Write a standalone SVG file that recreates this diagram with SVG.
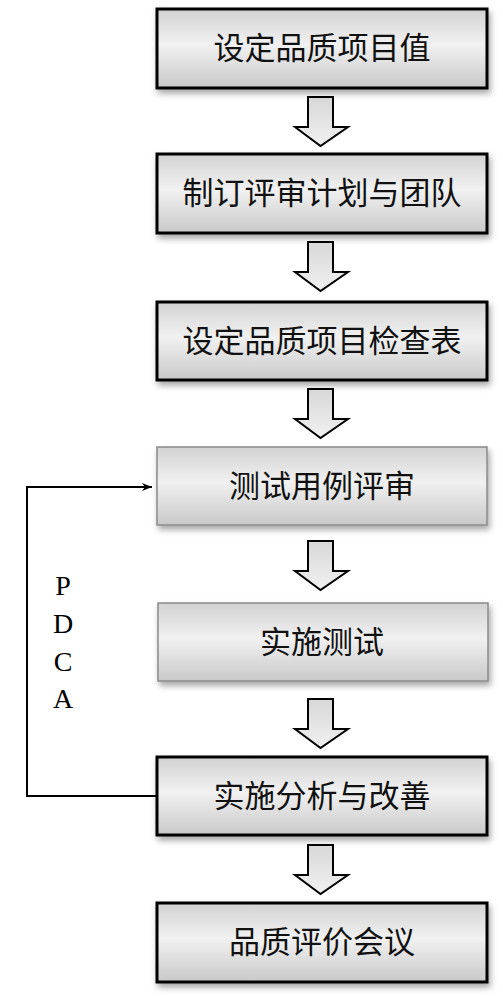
<svg xmlns="http://www.w3.org/2000/svg" width="503" height="1008" viewBox="0 0 503 1008">
<defs>
<linearGradient id="boxg" x1="0" y1="0" x2="0" y2="1">
<stop offset="0" stop-color="#d2d2d2"/>
<stop offset="0.45" stop-color="#f1f1f1"/>
<stop offset="1" stop-color="#c9c9c9"/>
</linearGradient>
<linearGradient id="arrg" x1="0" y1="0" x2="0" y2="1">
<stop offset="0" stop-color="#d8d8d8"/>
<stop offset="1" stop-color="#f0f0f0"/>
</linearGradient>
<filter id="sh" x="-10%" y="-10%" width="125%" height="135%">
<feDropShadow dx="2" dy="4" stdDeviation="3" flood-color="#000" flood-opacity="0.35"/>
</filter>
<marker id="ah" viewBox="0 0 10 10" refX="10" refY="5" markerWidth="25" markerHeight="10" markerUnits="userSpaceOnUse" orient="auto">
<path d="M0,1 L10,5 L0,9 L3,5 z" fill="#000"/>
</marker>
<path id="arrow" d="M-13,0 H12 V30 H27 L-0.5,49 L-26,30 H-13 Z"/>
</defs>
<style>
.box{fill:url(#boxg);filter:url(#sh)}
.dark{stroke:#000;stroke-width:3}
.light{stroke:#8a8a8a;stroke-width:1.5}
.lbl{font-family:"Liberation Serif","Noto Sans CJK SC",serif;font-size:31px;fill:#111;text-anchor:middle;dominant-baseline:central}
.arr{fill:url(#arrg);stroke:#000;stroke-width:2;stroke-linejoin:miter}
.pdca{font-family:"Liberation Serif","Times New Roman",serif;font-size:28px;fill:#000;text-anchor:middle}
.conn{fill:none;stroke:#000;stroke-width:2}
</style>
<g id="n1"><rect class="box dark" x="157" y="9" width="330" height="79"/><text class="lbl" x="322" y="48.5">设定品质项目值</text></g>
<g id="n2"><rect class="box dark" x="157" y="154" width="330" height="79"/><text class="lbl" x="322" y="193.5">制订评审计划与团队</text></g>
<g id="n3"><rect class="box dark" x="157" y="302" width="330" height="78"/><text class="lbl" x="322" y="341">设定品质项目检查表</text></g>
<g id="n4"><rect class="box light" x="157" y="447" width="330" height="78"/><text class="lbl" x="322" y="486">测试用例评审</text></g>
<g id="n5"><rect class="box light" x="158" y="603" width="330" height="78"/><text class="lbl" x="322" y="642">实施测试</text></g>
<g id="n6"><rect class="box dark" x="157" y="757" width="330" height="78"/><text class="lbl" x="322" y="796">实施分析与改善</text></g>
<g id="n7"><rect class="box dark" x="157" y="903" width="330" height="79"/><text class="lbl" x="322" y="942.5">品质评价会议</text></g>
<g id="connectors">
<use href="#arrow" class="arr" x="321" y="97"/>
<use href="#arrow" class="arr" x="321" y="242"/>
<use href="#arrow" class="arr" x="321" y="389"/>
<use href="#arrow" class="arr" x="321" y="541"/>
<use href="#arrow" class="arr" x="321" y="699"/>
<use href="#arrow" class="arr" x="321" y="845"/>
<path class="conn" d="M157,796 H27 V487 H152" marker-end="url(#ah)"/>
</g>
<g id="pdca">
<text class="pdca" x="63" y="595">P</text>
<text class="pdca" x="63" y="633">D</text>
<text class="pdca" x="63" y="671">C</text>
<text class="pdca" x="63" y="708">A</text>
</g>
</svg>
